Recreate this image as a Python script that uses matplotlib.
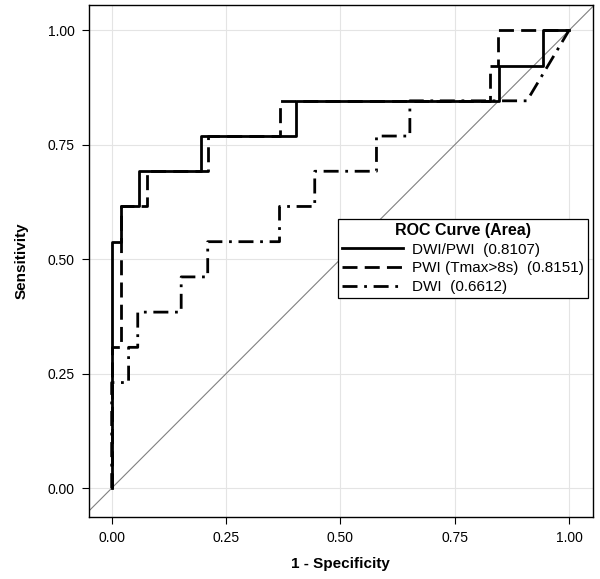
import numpy as np
import matplotlib.pyplot as plt

plt.rcParams['font.family'] = ['Liberation Sans', 'DejaVu Sans']

# ROC points (1 - specificity, sensitivity); sensitivity in steps of 1/13
dwipwi_fpr = [0, 0, 0.021, 0.021, 0.059, 0.059, 0.195, 0.195, 0.404, 0.404, 0.847, 0.847, 0.943, 0.943, 1.0]
dwipwi_tpr = np.array([0, 7, 7, 8, 8, 9, 9, 10, 10, 11, 11, 12, 12, 13, 13]) / 13

pwi_fpr = [0, 0, 0.021, 0.021, 0.077, 0.077, 0.21, 0.21, 0.368, 0.368, 0.827, 0.827, 0.845, 0.845, 1.0]
pwi_tpr = np.array([0, 4, 4, 8, 8, 9, 9, 10, 10, 11, 11, 12, 12, 13, 13]) / 13

dwi_fpr = [0, 0, 0.037, 0.037, 0.057, 0.057, 0.152, 0.152, 0.21, 0.21, 0.367, 0.367,
           0.444, 0.444, 0.579, 0.579, 0.652, 0.652, 0.908, 1.0]
dwi_tpr = np.array([0, 3, 3, 4, 4, 5, 5, 6, 6, 7, 7, 8, 8, 9, 9, 10, 10, 11, 11, 13]) / 13

labels = ['DWI/PWI  (0.8107)', 'PWI (Tmax>8s)  (0.8151)', 'DWI  (0.6612)']
ticks = [0.0, 0.25, 0.5, 0.75, 1.0]
tick_labels = ['0.00', '0.25', '0.50', '0.75', '1.00']

fig = plt.figure(figsize=(6, 5.79), dpi=100)
ax = fig.add_axes([0.148, 0.107, 0.84, 0.884])

ax.axline((0, 0), (1, 1), color='#808080', lw=0.8, zorder=1)

ax.plot(dwipwi_fpr, dwipwi_tpr, color='black', lw=2, ls='-', label=labels[0], zorder=3)
ax.plot(pwi_fpr, pwi_tpr, color='black', lw=2, ls=(0, (5.4, 2.6)), label=labels[1], zorder=3)
ax.plot(dwi_fpr, dwi_tpr, color='black', lw=2, ls=(0, (5.4, 2.4, 1, 2.4)), label=labels[2], zorder=3)

ax.set_xlim(-0.05, 1.052)
ax.set_ylim(-0.063, 1.055)
ax.set_xticks(ticks)
ax.set_xticklabels(tick_labels)
ax.set_yticks(ticks)
ax.set_yticklabels(tick_labels)
ax.tick_params(labelsize=10, length=5, width=0.8, color='black', pad=5)
ax.grid(True, color='#e4e4e4', lw=0.8)
ax.set_axisbelow(True)
for s in ax.spines.values():
    s.set_linewidth(1.0)

ax.set_xlabel('1 - Specificity', fontsize=11, fontweight='bold', labelpad=9)
ax.set_ylabel('Sensitivity', fontsize=11, fontweight='bold', labelpad=14)

leg = ax.legend(loc='upper right', bbox_to_anchor=(0.98, 0.621), bbox_transform=fig.transFigure,
                title='ROC Curve (Area)', fontsize=11, title_fontproperties={'weight': 'bold', 'size': 11.5},
                frameon=True, fancybox=False, edgecolor='black', framealpha=1,
                handlelength=4.0, handletextpad=0.6, borderpad=0.25, labelspacing=0.3,
                borderaxespad=0)
leg.get_frame().set_linewidth(0.9)

fig.savefig('out.png', dpi=100)
